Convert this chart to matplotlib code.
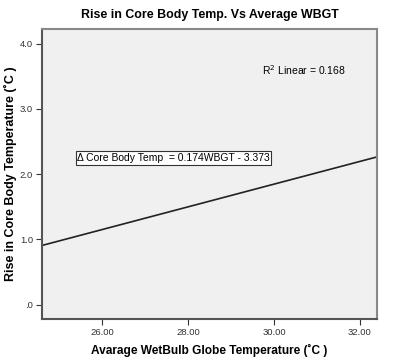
import numpy as np
import matplotlib.pyplot as plt

# fit line
slope = 0.174
intercept = -3.373
r2 = 0.168
x_range = [24.6, 32.4]
x_ticks = [26, 28, 30, 32]
y_ticks = [0, 1, 2, 3, 4]

plt.rcParams['font.family'] = ['Liberation Sans', 'DejaVu Sans']

fig = plt.figure(figsize=(4, 3.64), dpi=100)
ax = fig.add_axes([0.105, 0.1236, 0.8375, 0.7967])
ax.set_facecolor('#f0f0f0')

xs = np.array(x_range)
ax.plot(xs, slope * xs + intercept, color='#222222', lw=1.2)

ax.set_xlim(x_range)
ax.set_ylim(-0.22, 4.225)
ax.set_xticks(x_ticks)
ax.set_xticklabels(['%.2f' % v for v in x_ticks])
ax.set_yticks(y_ticks)
ax.set_yticklabels(['.0' if v == 0 else '%.1f' % v for v in y_ticks])
ax.tick_params(labelsize=6.8, length=4, width=0.8, color='#333333', labelcolor='#333333', pad=2.5)

for s in ax.spines.values():
    s.set_color('#555555')
    s.set_linewidth(1.5)
ax.spines['top'].set_color('#888888')
ax.spines['right'].set_color('#888888')

ax.set_title('Rise in Core Body Temp. Vs Average WBGT', fontsize=8.9, fontweight='bold', pad=8)
ax.set_xlabel('Avarage WetBulb Globe Temperature (\u02daC )', fontsize=8.6, fontweight='bold', labelpad=5)
ax.set_ylabel('Rise in Core Body Temperature (\u02daC )', fontsize=9, fontweight='bold', labelpad=2)

ax.text(0.905, 0.86, 'R$^2$ Linear = %.3f' % r2, transform=ax.transAxes, fontsize=7.5, ha='right', va='center')
ax.text(0.105, 0.555, '\u0394 Core Body Temp  = %.3fWBGT - %.3f' % (slope, -intercept),
        transform=ax.transAxes, fontsize=7.5, ha='left', va='center',
        bbox=dict(boxstyle='square,pad=0.15', fc='white', ec='#333333', lw=0.8))

plt.savefig('out.png', dpi=100)
